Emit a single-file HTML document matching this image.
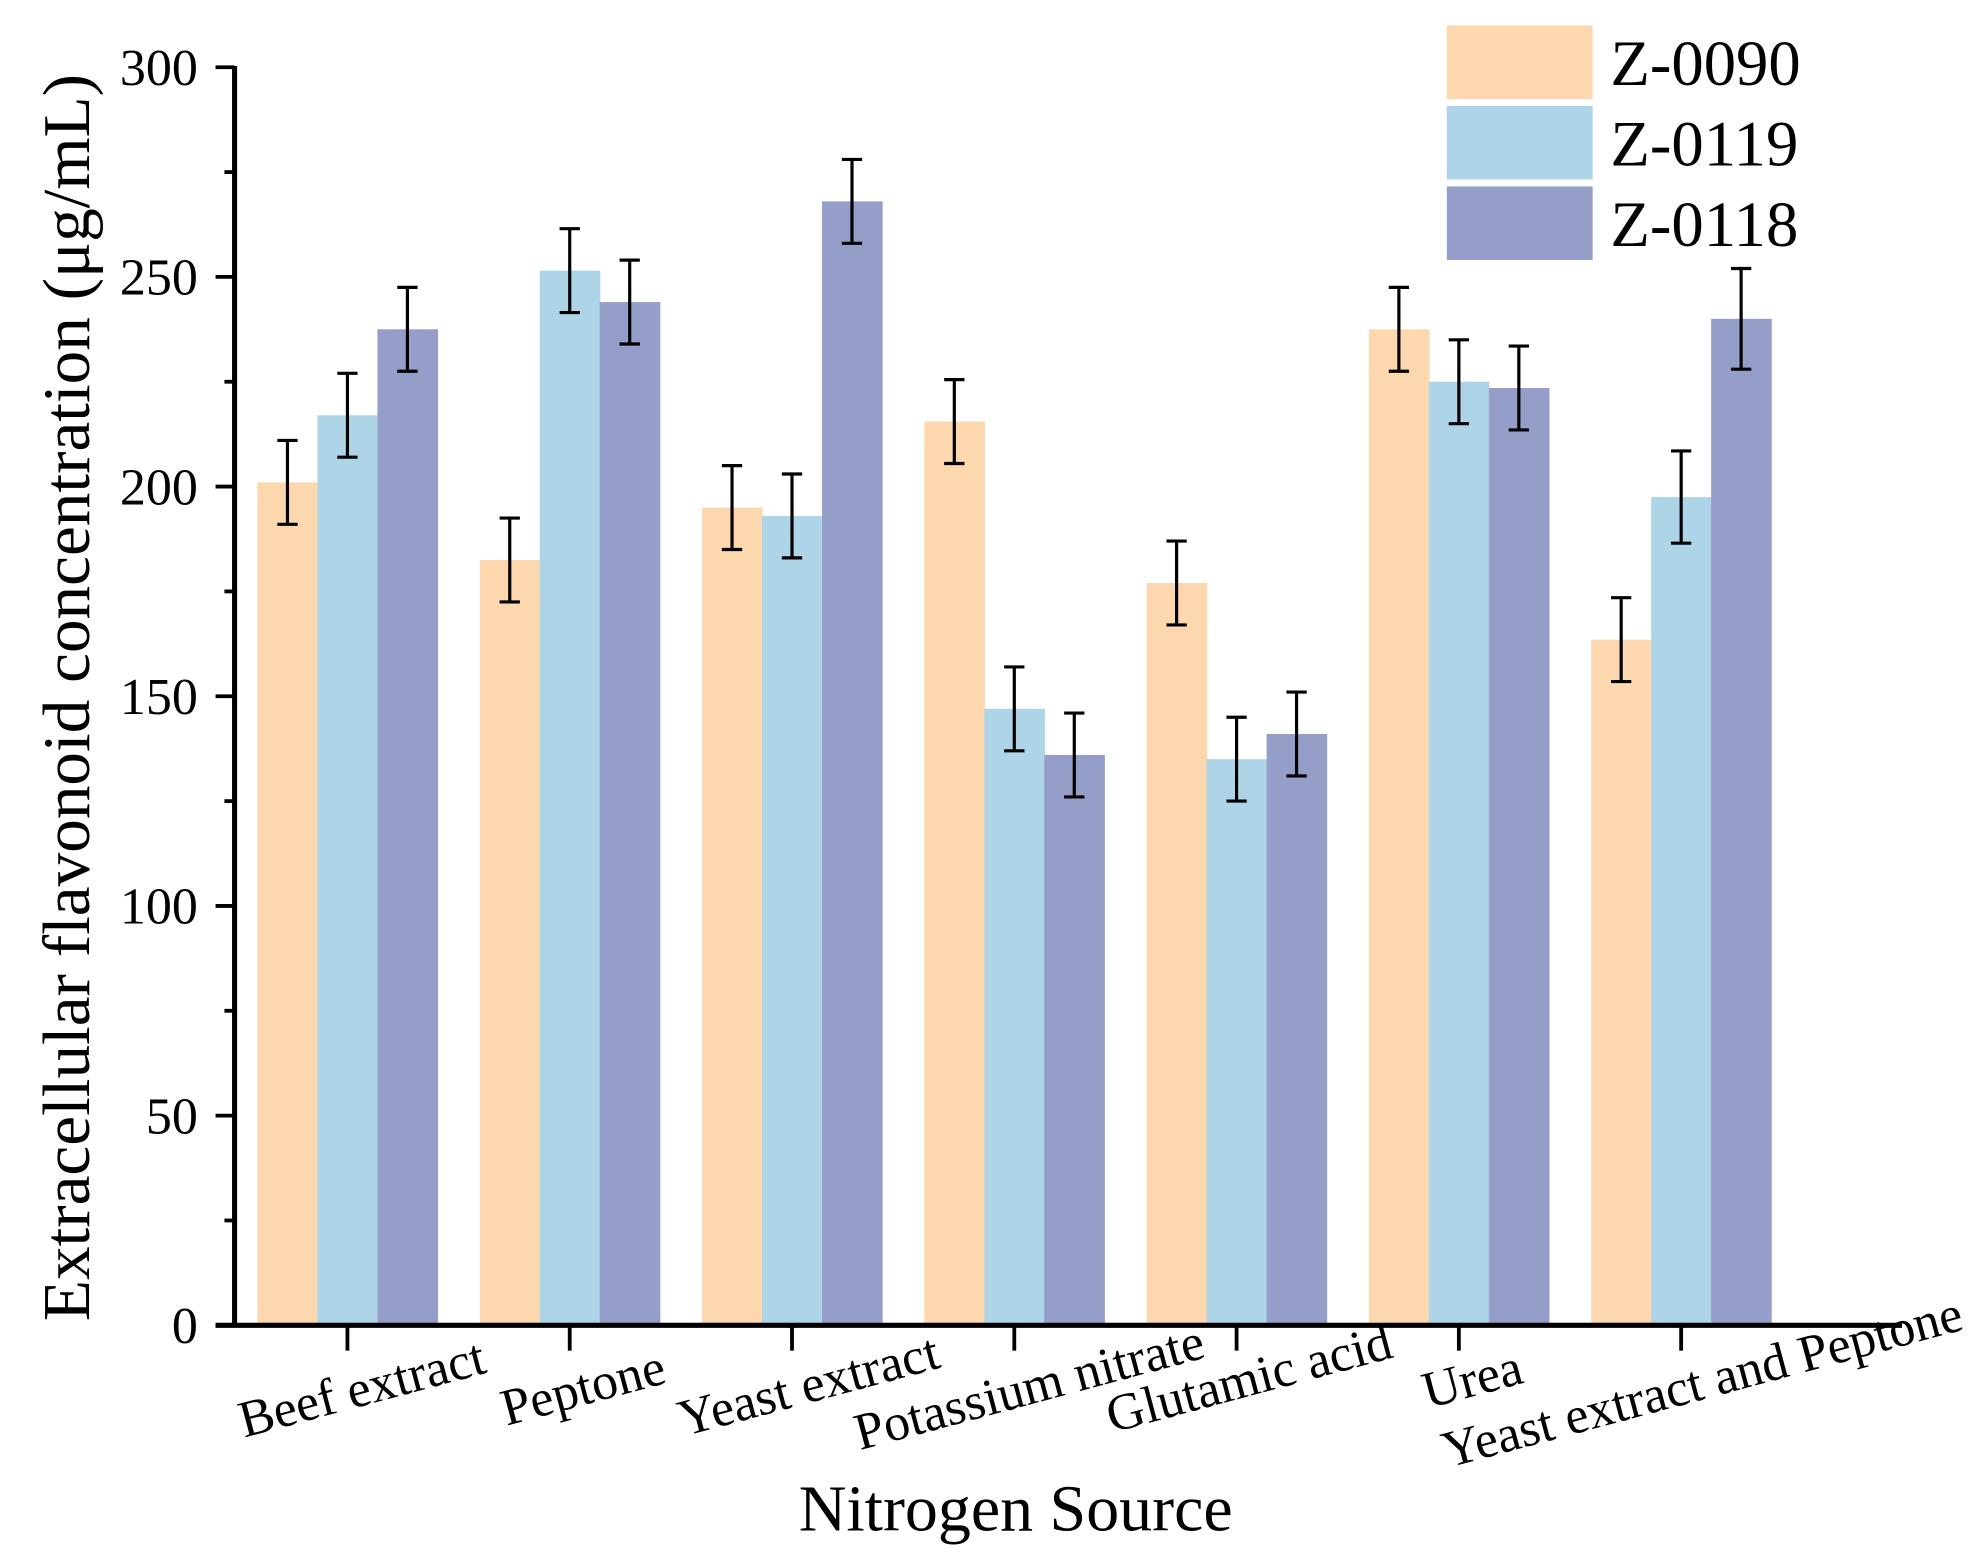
<!DOCTYPE html>
<html><head><meta charset="utf-8"><style>html,body{margin:0;padding:0;background:#fff}svg{display:block}text{font-family:"Liberation Serif",serif;fill:#000}</style></head>
<body>
<svg id="chart" width="1987" height="1565" viewBox="0 0 1567 1234" preserveAspectRatio="none" xmlns="http://www.w3.org/2000/svg"></svg>
<script>
const categories=["Beef extract","Peptone","Yeast extract","Potassium nitrate","Glutamic acid","Urea","Yeast extract and Peptone"];
const seriesNames=["Z-0090","Z-0119","Z-0118"];
const z0090=[201,182.5,195,215.5,177,237.5,163.5];
const z0119=[217,251.5,193,147,135,225,197.5];
const z0118=[237.5,244,268,136,141,223.5,240];
const err0090=[10,10,10,10,10,10,10];
const err0119=[10,10,10,10,10,10,11];
const err0118=[10,10,10,10,10,10,12];
const yTicks=[0,50,100,150,200,250,300];
const colors=["#fdd7ae","#aed5e7","#959ec9"];
const svg=document.getElementById('chart');const NS="http://www.w3.org/2000/svg";
function mk(t,a,p){const e=document.createElementNS(NS,t);for(const k in a)e.setAttribute(k,a[k]);(p||svg).appendChild(e);return e;}
const y=v=>1045-v*992/300;
const xc=i=>274+i*175.3;
const bw=47.3;
const labelEnd=[[385,1082],[527,1090],[743,1078],[952,1070],[1100,1070],[1203,1090],[1550,1048]];
const series=[z0090,z0119,z0118],errs=[err0090,err0119,err0118];
series.forEach((s,si)=>{s.forEach((v,i)=>{
 const x=xc(i)+(si-1.5)*bw;
 const r=mk('rect',{x:x,y:y(v),width:bw+0.5,height:y(0)-y(v),fill:colors[si]});
 
 
 const cx=x+bw/2,e=errs[si][i];
 const g=mk('path',{d:`M${cx},${y(v+e)}V${y(v-e)}M${cx-8},${y(v+e)}H${cx+8}M${cx-8},${y(v-e)}H${cx+8}`,stroke:'#000','stroke-width':2.5,fill:'none'});
 
 
});});
const ax=mk('path',{d:'M185,52V1046M170,1045H1500',stroke:'#000','stroke-width':4,fill:'none'});


yTicks.forEach(t=>{mk('line',{x1:170,x2:185,y1:y(t),y2:y(t),stroke:'#000','stroke-width':3});
 const l=mk('text',{x:156,y:y(t)+14,'text-anchor':'end','font-size':41});l.textContent=t;
 
 
 if(t<300)mk('line',{x1:177,x2:185,y1:y(t+25),y2:y(t+25),stroke:'#000','stroke-width':3});});
categories.forEach((c,i)=>{mk('line',{x1:xc(i),x2:xc(i),y1:1045,y2:1065,stroke:'#000','stroke-width':3});
 const l=mk('text',{'text-anchor':'end','font-size':41,transform:`translate(${labelEnd[i][0]},${labelEnd[i][1]}) rotate(-15)`});l.textContent=c;
 
 });
const yt=mk('text',{'text-anchor':'middle','font-size':53,transform:'translate(70,550) rotate(-90)'});yt.textContent='Extracellular flavonoid concentration (μg/mL)';


const xt=mk('text',{x:801,y:1207,'text-anchor':'middle','font-size':52});xt.textContent='Nitrogen Source';


seriesNames.forEach((n,i)=>{const r=mk('rect',{x:1141,y:20+i*63.5,width:115,height:58,fill:colors[i]});
 
 
 const t=mk('text',{x:1270,y:67+i*63.5,'font-size':51});t.textContent=n;
 
 });
</script>
</body></html>
